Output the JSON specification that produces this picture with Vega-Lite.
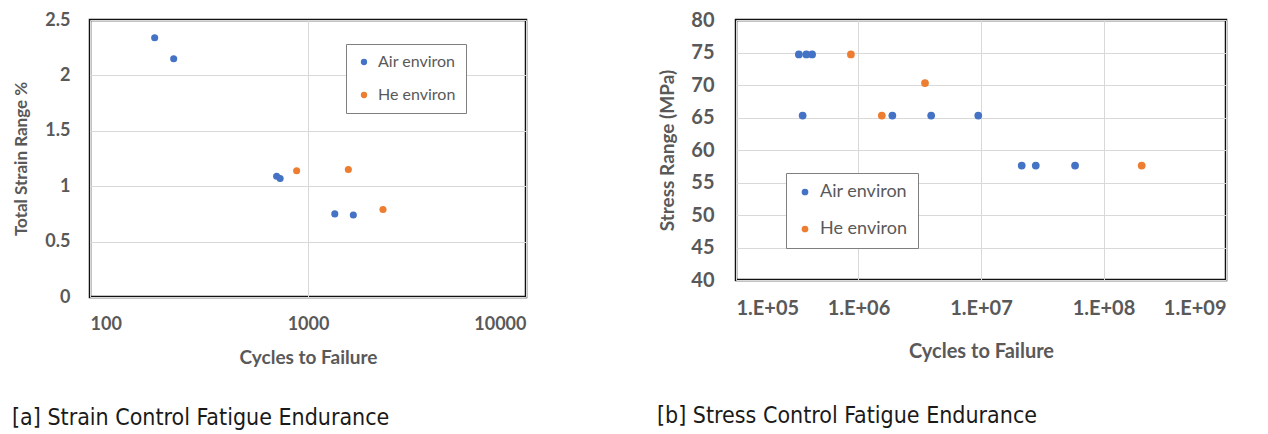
{
  "$schema": "https://vega.github.io/schema/vega-lite/v6.json",
  "background": "white",
  "padding": {"left": 10, "top": 8, "right": 0, "bottom": 0},
  "bounds": "flush",
  "spacing": 210,
  "config": {
    "view": {"stroke": "#111111", "strokeWidth": 2.5},
    "axis": {
      "domain": false,
      "ticks": false,
      "gridColor": "#d9d9d9",
      "gridWidth": 1,
      "labelFont": "Lato",
      "titleFont": "Lato",
      "labelColor": "#595959",
      "titleColor": "#595959",
      "labelFontWeight": "bold",
      "titleFontWeight": "bold"
    },
    "legend": {
      "labelFont": "Lato",
      "labelColor": "#595959",
      "strokeColor": "#7f7f7f",
      "fillColor": "white",
      "padding": 10,
      "symbolType": "circle",
      "symbolStrokeWidth": 0
    }
  },
  "datasets": {
    "strain": [
      {"cycles": 198, "value": 2.34, "env": "Air environ"},
      {"cycles": 242, "value": 2.15, "env": "Air environ"},
      {"cycles": 718, "value": 1.09, "env": "Air environ"},
      {"cycles": 745, "value": 1.07, "env": "Air environ"},
      {"cycles": 1327, "value": 0.75, "env": "Air environ"},
      {"cycles": 1614, "value": 0.74, "env": "Air environ"},
      {"cycles": 887, "value": 1.14, "env": "He environ"},
      {"cycles": 1531, "value": 1.15, "env": "He environ"},
      {"cycles": 2208, "value": 0.79, "env": "He environ"}
    ],
    "stress": [
      {"cycles": 326000, "value": 74.7, "env": "Air environ"},
      {"cycles": 375000, "value": 74.7, "env": "Air environ"},
      {"cycles": 418000, "value": 74.7, "env": "Air environ"},
      {"cycles": 350000, "value": 65.3, "env": "Air environ"},
      {"cycles": 1890000, "value": 65.3, "env": "Air environ"},
      {"cycles": 3920000, "value": 65.3, "env": "Air environ"},
      {"cycles": 9500000, "value": 65.3, "env": "Air environ"},
      {"cycles": 21500000, "value": 57.6, "env": "Air environ"},
      {"cycles": 28000000, "value": 57.6, "env": "Air environ"},
      {"cycles": 58600000, "value": 57.6, "env": "Air environ"},
      {"cycles": 867000, "value": 74.7, "env": "He environ"},
      {"cycles": 3490000, "value": 70.3, "env": "He environ"},
      {"cycles": 1550000, "value": 65.3, "env": "He environ"},
      {"cycles": 205000000, "value": 57.6, "env": "He environ"}
    ]
  },
  "resolve": {"scale": {"color": "independent"}, "legend": {"color": "independent"}},
  "hconcat": [
    {
      "width": 436,
      "height": 277,
      "data": {"name": "strain"},
      "title": {
        "text": "[a] Strain Control Fatigue Endurance",
        "orient": "bottom",
        "anchor": "start",
        "frame": "group",
        "dx": -78,
        "offset": 40,
        "font": "Liberation Sans Narrow, DejaVu Sans Condensed, sans-serif",
        "fontSize": 23,
        "fontWeight": "normal",
        "color": "#1a1a1a"
      },
      "mark": {"type": "circle", "size": 50, "opacity": 1},
      "encoding": {
        "x": {
          "field": "cycles",
          "type": "quantitative",
          "scale": {"type": "log", "domain": [100, 10000], "nice": false},
          "axis": {
            "values": [100, 1000, 10000],
            "format": "d",
            "title": "Cycles to Failure",
            "labelFontSize": 18,
            "titleFontSize": 19,
            "labelPadding": 18,
            "titlePadding": 15
          }
        },
        "y": {
          "field": "value",
          "type": "quantitative",
          "scale": {"domain": [0, 2.5], "nice": false},
          "axis": {
            "values": [0, 0.5, 1, 1.5, 2, 2.5],
            "format": "~g",
            "title": "Total Strain Range %",
            "labelFontSize": 18,
            "titleFontSize": 17,
            "labelPadding": 20,
            "minExtent": 45,
            "maxExtent": 45,
            "titlePadding": 15
          }
        },
        "color": {
          "field": "env",
          "type": "nominal",
          "scale": {"domain": ["Air environ", "He environ"], "range": ["#4472C4", "#ED7D31"]},
          "legend": {
            "title": null,
            "orient": "none",
            "legendX": 256,
            "legendY": 24,
            "labelFontSize": 16,
            "rowPadding": 17,
            "symbolSize": 40,
            "labelOffset": 6
          }
        }
      }
    },
    {
      "width": 490,
      "height": 260,
      "data": {"name": "stress"},
      "title": {
        "text": "[b] Stress Control Fatigue Endurance",
        "orient": "bottom",
        "anchor": "start",
        "frame": "group",
        "dx": -79,
        "offset": 44,
        "font": "Liberation Sans Narrow, DejaVu Sans Condensed, sans-serif",
        "fontSize": 23,
        "fontWeight": "normal",
        "color": "#1a1a1a"
      },
      "mark": {"type": "circle", "size": 60, "opacity": 1},
      "encoding": {
        "x": {
          "field": "cycles",
          "type": "quantitative",
          "scale": {"type": "log", "domain": [100000, 1000000000], "nice": false},
          "axis": {
            "values": [100000, 1000000, 10000000, 100000000, 1000000000],
            "labelExpr": "'1.E+0' + round(log(datum.value) / LN10)",
            "title": "Cycles to Failure",
            "labelFontSize": 20,
            "titleFontSize": 20,
            "labelPadding": 18,
            "titlePadding": 23
          }
        },
        "y": {
          "field": "value",
          "type": "quantitative",
          "scale": {"domain": [40, 80], "nice": false},
          "axis": {
            "values": [40, 45, 50, 55, 60, 65, 70, 75, 80],
            "title": "Stress Range (MPa)",
            "labelFontSize": 20,
            "titleFontSize": 19,
            "labelPadding": 22,
            "minExtent": 45,
            "maxExtent": 45,
            "titlePadding": 14
          }
        },
        "color": {
          "field": "env",
          "type": "nominal",
          "scale": {"domain": ["Air environ", "He environ"], "range": ["#4472C4", "#ED7D31"]},
          "legend": {
            "title": null,
            "orient": "none",
            "legendX": 50,
            "legendY": 153,
            "labelFontSize": 18,
            "rowPadding": 19,
            "symbolSize": 45,
            "labelOffset": 6
          }
        }
      }
    }
  ]
}
